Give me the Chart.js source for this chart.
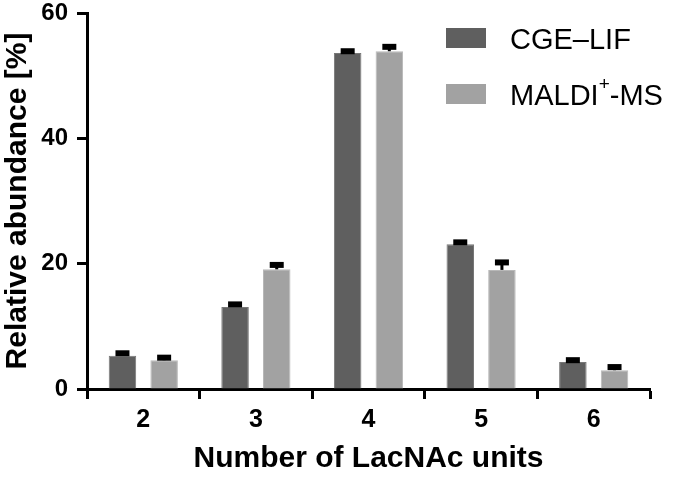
<!DOCTYPE html>
<html>
<head>
<meta charset="utf-8">
<script src="https://cdn.jsdelivr.net/npm/chart.js@4/dist/chart.umd.min.js"></script>
<style>
  html, body { margin: 0; padding: 0; background: #fff; }
  #wrap { width: 675px; height: 477px; }
</style>
</head>
<body>
<div id="wrap"><canvas id="chart" width="675" height="477"></canvas></div>
<script>
const units = ['2', '3', '4', '5', '6'];
const seriesNames = ['CGE–LIF', 'MALDI^+-MS'];
const cgeLif = [5.3, 13.1, 53.6, 23.1, 4.3];
const cgeLifErr = [0.4, 0.4, 0.3, 0.3, 0.3];
const maldi = [4.6, 19.1, 53.9, 19.0, 3.0];
const maldiErr = [0.4, 0.7, 0.7, 1.2, 0.5];
const yTicks = [0, 20, 40, 60];

const FONT = '"Liberation Sans", Arial, sans-serif';

// upper error bars, black, thick caps
const errorBars = {
    id: 'errorBars',
    afterDatasetsDraw(chart) {
        const ctx = chart.ctx;
        const y = chart.scales.y;
        chart.data.datasets.forEach((ds, i) => {
            const meta = chart.getDatasetMeta(i);
            meta.data.forEach((bar, j) => {
                const top = y.getPixelForValue(ds.data[j] + ds.err[j]);
                ctx.save();
                ctx.strokeStyle = '#000';
                ctx.lineWidth = 3;
                ctx.beginPath();
                ctx.moveTo(bar.x, bar.y);
                ctx.lineTo(bar.x, top);
                ctx.stroke();
                ctx.lineWidth = 6;
                ctx.beginPath();
                ctx.moveTo(bar.x - 7, top);
                ctx.lineTo(bar.x + 7, top);
                ctx.stroke();
                ctx.restore();
            });
        });
    }
};

// legend inside the plot, with superscript support ("^x")
const innerLegend = {
    id: 'innerLegend',
    afterDraw(chart) {
        const ctx = chart.ctx;
        ctx.save();
        chart.data.datasets.forEach((ds, i) => {
            const by = 28 + i * 56;
            ctx.fillStyle = ds.backgroundColor;
            ctx.fillRect(446, by, 40, 20);
            ctx.fillStyle = '#000';
            ctx.textBaseline = 'middle';
            let x = 510;
            const parts = ds.label.split('^');
            parts.forEach((p, k) => {
                if (k > 0) {
                    ctx.font = '19px ' + FONT;
                    const sup = p[0];
                    ctx.fillText(sup, x, by + 1);
                    x += ctx.measureText(sup).width;
                    p = p.slice(1);
                }
                ctx.font = '29px ' + FONT;
                ctx.fillText(p, x, by + 13);
                x += ctx.measureText(p).width;
            });
        });
        ctx.restore();
    }
};

new Chart(document.getElementById('chart'), {
    type: 'bar',
    data: {
        labels: units,
        datasets: [
            {
                label: seriesNames[0],
                data: cgeLif,
                err: cgeLifErr,
                backgroundColor: '#5f5f5f',
                borderColor: '#777',
                borderWidth: 1
            },
            {
                label: seriesNames[1],
                data: maldi,
                err: maldiErr,
                backgroundColor: '#a2a2a2',
                borderColor: '#b8b8b8',
                borderWidth: 1
            }
        ]
    },
    options: {
        responsive: false,
        animation: false,
        layout: { padding: { top: 13, right: 25, left: 0, bottom: 0 } },
        datasets: {
            bar: { categoryPercentage: 0.74, barPercentage: 0.66 }
        },
        plugins: {
            legend: { display: false },
            tooltip: { enabled: false }
        },
        scales: {
            x: {
                grid: {
                    drawOnChartArea: false,
                    tickLength: 10,
                    tickWidth: 3,
                    tickColor: '#000'
                },
                border: { color: '#000', width: 3 },
                ticks: {
                    color: '#000',
                    padding: 6,
                    font: { family: FONT, size: 25, weight: 'bold' }
                },
                title: {
                    display: true,
                    text: 'Number of LacNAc units',
                    color: '#000',
                    padding: { top: 0, bottom: 0 },
                    font: { family: FONT, size: 30, weight: 'bold' }
                },
                afterFit(scale) {
                    scale.height = 88;
                    scale.paddingLeft = 0;
                    scale.paddingRight = 0;
                }
            },
            y: {
                min: 0,
                max: 60,
                afterBuildTicks(scale) { scale.ticks = yTicks.map(v => ({ value: v })); },
                grid: {
                    drawOnChartArea: false,
                    tickLength: 10,
                    tickWidth: 3,
                    tickColor: '#000'
                },
                border: { color: '#000', width: 3 },
                ticks: {
                    color: '#000',
                    padding: 9,
                    font: { family: FONT, size: 24, weight: 'bold' }
                },
                title: {
                    display: true,
                    text: 'Relative abundance [%]',
                    color: '#000',
                    padding: { top: 0, bottom: 0 },
                    font: { family: FONT, size: 30, weight: 'bold' }
                },
                afterFit(scale) {
                    scale.width = 87;
                    scale.paddingTop = 0;
                    scale.paddingBottom = 0;
                }
            }
        }
    },
    plugins: [errorBars, innerLegend]
});
</script>
</body>
</html>
